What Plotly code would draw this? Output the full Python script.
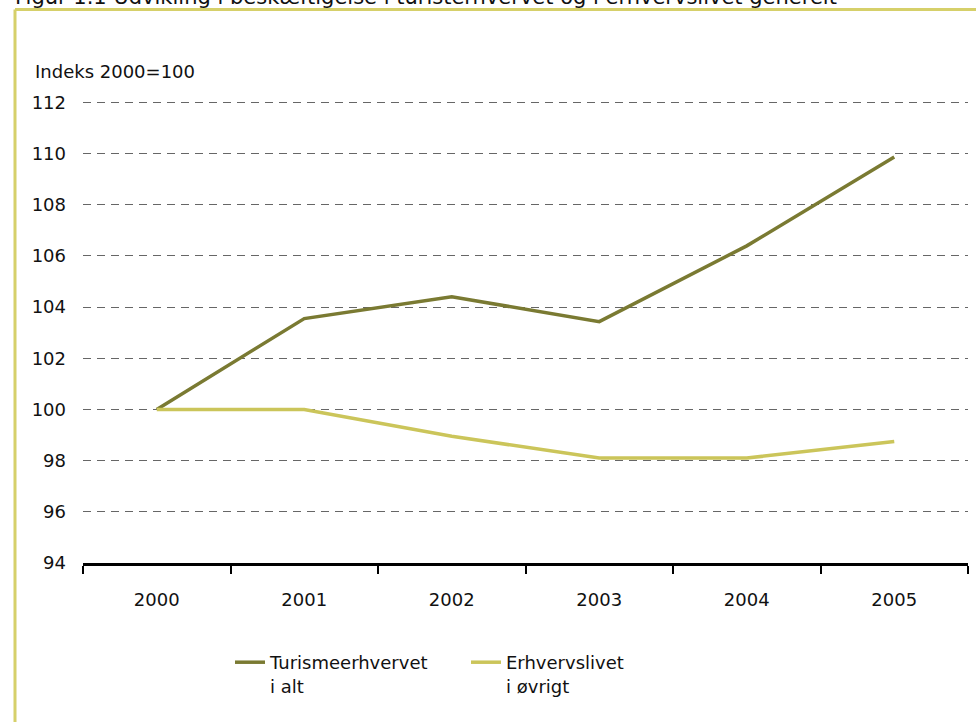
import plotly.graph_objects as go

years = ["2000", "2001", "2002", "2003", "2004", "2005"]
turisme = [100.0, 103.55, 104.4, 103.43, 106.39, 109.86]
erhverv = [100.0, 100.0, 98.95, 98.1, 98.1, 98.75]
y_ticks = [94, 96, 98, 100, 102, 104, 106, 108, 110, 112]

W, H = 976, 722
L, R, T, B = 83, 8, 101, 159
pw, ph = W - L - R, H - T - B

def px(x):
    return (x - L) / pw

def py(y):
    return (H - B - y) / ph

FONT = "DejaVu Sans"
fig = go.Figure()
fig.add_trace(go.Scatter(x=years, y=turisme, mode="lines", name="Turismeerhvervet<br>i alt",
                         line=dict(color="#7a7a32", width=3.5)))
fig.add_trace(go.Scatter(x=years, y=erhverv, mode="lines", name="Erhvervslivet<br>i øvrigt",
                         line=dict(color="#cbc55a", width=3.5)))

fig.update_layout(
    width=W, height=H,
    margin=dict(l=L, r=R, t=T, b=B),
    paper_bgcolor="white", plot_bgcolor="white",
    font=dict(family=FONT, size=18, color="#111111"),
    showlegend=True,
    legend=dict(orientation="h", x=px(230), y=py(644), xanchor="left", yanchor="top",
                font=dict(size=18), entrywidth=191, entrywidthmode="pixels",
                valign="top", tracegroupgap=0, bgcolor="rgba(0,0,0,0)"),
    xaxis=dict(type="category", range=[-0.5, 5.5], tickson="boundaries",
               showgrid=False, showline=True, linecolor="black", linewidth=3,
               ticks="outside", ticklen=8, tickwidth=2, tickcolor="black",
               ticklabelstandoff=18, tickfont=dict(size=18)),
    yaxis=dict(range=[94, 112.05], tickvals=y_ticks, showgrid=True, gridcolor="#666666",
               griddash="8px,6px", gridwidth=1.2, zeroline=False, showline=False,
               ticklabelstandoff=16, tickfont=dict(size=18)),
    shapes=[
        dict(type="line", xref="paper", yref="paper", x0=px(15), x1=px(1000), y0=py(9.5), y1=py(9.5),
             line=dict(color="#d6d06a", width=3)),
        dict(type="line", xref="paper", yref="paper", x0=px(15), x1=px(15), y0=py(9.5), y1=py(740),
             line=dict(color="#d6d06a", width=3)),
    ],
    annotations=[
        dict(text="Indeks 2000=100", xref="paper", yref="paper", x=px(33), y=py(72),
             xanchor="left", yanchor="middle", showarrow=False, font=dict(size=18)),
        dict(text="Figur 1.1 Udvikling i beskæftigelse i turisterhvervet og i erhvervslivet generelt",
             xref="paper", yref="paper", x=px(13), y=py(11), xanchor="left", yanchor="bottom",
             showarrow=False, font=dict(size=21)),
    ],
)

fig.write_html("out.html", config={"displayModeBar": False},
               post_script="document.body.style.margin='0';document.body.style.padding='0';")
